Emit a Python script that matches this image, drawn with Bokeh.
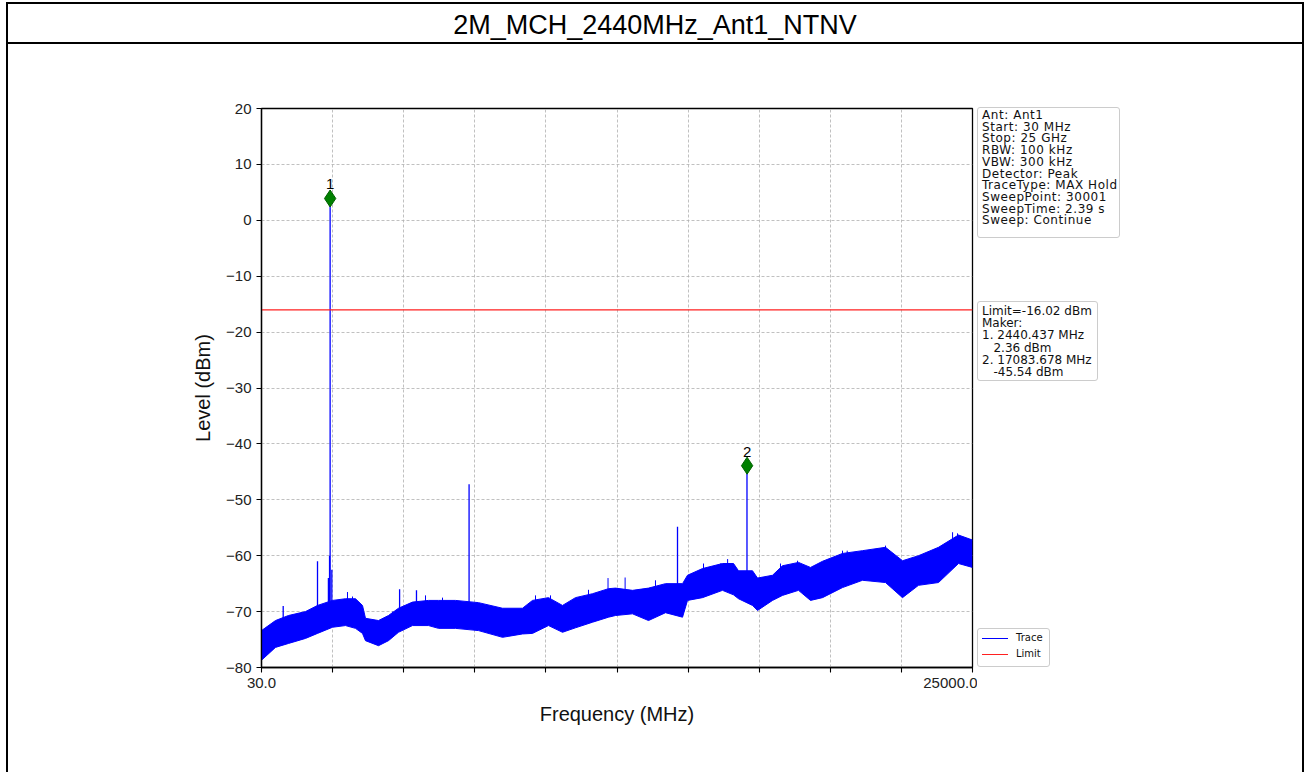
from bokeh.plotting import figure
from bokeh.models import Range1d, FixedTicker, Div, Spacer
from bokeh.layouts import column, row
from bokeh.embed import file_html
from bokeh.resources import INLINE
from bokeh.core.properties import value

# ---------------- data ----------------
title_text = "2M_MCH_2440MHz_Ant1_NTNV"
f_start, f_stop = 30.0, 25000.0
limit_level = -16.02

x_ticks = [30.0, 2527.0, 5024.0, 7521.0, 10018.0, 12515.0, 15012.0, 17509.0, 20006.0, 22503.0, 25000.0]
x_tick_labels = ["30.0", "", "", "", "", "", "", "", "", "", "25000.0"]
y_ticks = [-80, -70, -60, -50, -40, -30, -20, -10, 0, 10, 20]
y_tick_labels = ["\u221280", "\u221270", "\u221260", "\u221250", "\u221240", "\u221230", "\u221220", "\u221210", "0", "10", "20"]

# noise floor envelope of the max-hold trace (MHz, dBm)
noise_freq = [30, 522, 978, 1575, 1997, 2524, 2980, 3331, 3577, 3682,
              4139, 4490, 4841, 5333, 5895, 6246, 6843, 7651, 8494, 9196,
              9547, 10109, 10601, 11057, 11655, 12217, 12463, 13060, 13622, 14219,
              14816, 14991, 15518, 16220, 16607, 16783, 17274, 17450, 17977, 18328,
              18890, 19311, 19733, 20435, 21137, 21945, 22542, 23104, 23806, 24508, 25000]
noise_top = [-73.4, -71.6, -70.7, -70.0, -68.9, -68.0, -67.7, -67.7, -68.9, -71.2,
             -71.6, -70.7, -69.4, -68.3, -68.0, -68.0, -68.0, -68.4, -69.4, -69.4,
             -68.0, -67.5, -68.9, -67.5, -66.8, -65.9, -65.8, -66.2, -65.8, -65.0,
             -65.0, -63.5, -62.3, -61.4, -61.4, -62.7, -62.7, -64.0, -63.5, -61.8,
             -61.2, -62.1, -61.0, -59.6, -59.1, -58.5, -60.9, -60.0, -58.5, -56.3, -57.2]
noise_bottom = [-78.7, -76.4, -75.7, -74.8, -73.9, -72.8, -72.5, -73.0, -73.9, -75.2,
                -76.1, -75.2, -73.7, -72.5, -72.5, -73.0, -73.0, -73.4, -74.6, -74.0,
                -73.9, -72.5, -73.7, -72.9, -71.9, -71.0, -70.7, -70.4, -71.6, -70.2,
                -71.0, -68.0, -67.5, -66.2, -67.0, -67.7, -68.9, -69.8, -68.0, -67.1,
                -66.2, -68.0, -67.5, -65.7, -64.4, -64.8, -67.5, -65.3, -64.8, -61.4, -62.1]

# narrow spurs and the carrier (MHz, base dBm, top dBm)
spur_freq = [792, 1997, 2380, 2420, 2440, 2500, 4880, 5473, 7320, 14640, 17080]
spur_base = [-74.0, -72.0, -72.0, -72.0, -72.0, -72.0, -72.0, -72.0, -72.0, -70.0, -66.0]
spur_top = [-69.0, -61.0, -64.0, -60.0, 3.9, -62.5, -66.0, -66.2, -47.2, -54.8, -43.9]

# tallest noise hairs rising above the floor (MHz, top dBm)
hair_freq = [3050, 3226, 4631, 5790, 6387, 9653, 10180, 11514, 12200, 12800, 13867,
             15553, 16150, 16400, 18257, 18855, 20435, 20600, 21945, 24300, 24474]
hair_top = [-66.5, -67.3, -70.0, -67.1, -67.5, -67.1, -67.1, -66.1, -64.0, -63.9, -64.4,
            -61.4, -61.4, -60.6, -61.4, -60.9, -59.1, -59.1, -58.2, -55.8, -56.0]

# markers
marker_freq = [2440.437, 17083.678]
marker_level = [3.9, -43.9]
marker_names = ["1", "2"]

info_lines = ["Ant: Ant1", "Start: 30 MHz", "Stop: 25 GHz", "RBW: 100 kHz", "VBW: 300 kHz",
              "Detector: Peak", "TraceType: MAX Hold", "SweepPoint: 30001",
              "SweepTime: 2.39 s", "Sweep: Continue"]
result_lines = ["Limit=-16.02 dBm", "Maker:", "1. 2440.437 MHz", "   2.36 dBm",
                "2. 17083.678 MHz", "   -45.54 dBm"]
legend_labels = ["Trace", "Limit"]
legend_colors = ["blue", "#ff2020"]

FONT = "Liberation Sans"
BOX_FONT = "'DejaVu Sans', sans-serif"

# ---------------- layout geometry (page pixels, page origin at 0,0) ----------------
ROOT_X, ROOT_Y, BORDER = 6, 2, 2
CONTENT_X, CONTENT_Y = ROOT_X + BORDER, ROOT_Y + BORDER
CONTENT_W = 1294
TITLE_H, RULE_H = 38, 2
FRAME_L, FRAME_R, FRAME_T, FRAME_B = 261, 972, 108, 667
FIG_Y0 = CONTENT_Y + TITLE_H + RULE_H
FIG_W = 977 - CONTENT_X
FIG_H = 728

p = figure(width=FIG_W, height=FIG_H, output_backend="svg", toolbar_location=None,
           x_range=Range1d(f_start, f_stop), y_range=Range1d(-80, 20),
           min_border_left=FRAME_L - CONTENT_X,
           min_border_right=FIG_W - (FRAME_R - CONTENT_X),
           min_border_top=FRAME_T - FIG_Y0,
           min_border_bottom=FIG_H - (FRAME_B - FIG_Y0),
           background_fill_color="white", border_fill_color="white")
p.outline_line_color = "black"
p.outline_line_width = 1.3

for ax in (p.xaxis[0], p.yaxis[0]):
    ax.axis_line_color = "black"
    ax.axis_line_width = 1.3
    ax.major_tick_line_color = "black"
    ax.major_tick_line_width = 1.1
    ax.major_tick_out = 5
    ax.major_tick_in = 0
    ax.minor_tick_line_color = None
    ax.major_label_text_font = FONT
    ax.major_label_text_font_size = "15px"
    ax.major_label_text_color = "#222222"
    ax.axis_label_text_font = FONT
    ax.axis_label_text_font_size = "20px"
    ax.axis_label_text_font_style = "normal"
    ax.axis_label_text_color = "#111111"

p.xaxis.ticker = FixedTicker(ticks=x_ticks)
p.xaxis.major_label_overrides = {t: l for t, l in zip(x_ticks, x_tick_labels)}
p.yaxis.ticker = FixedTicker(ticks=y_ticks)
p.yaxis.major_label_overrides = {t: l for t, l in zip(y_ticks, y_tick_labels)}
p.xaxis.axis_label = "Frequency (MHz)"
p.yaxis.axis_label = "Level (dBm)"
p.xaxis.major_label_standoff = 5
p.yaxis.major_label_standoff = 5
p.xaxis.axis_label_standoff = 12
p.yaxis.axis_label_standoff = 9

p.grid.grid_line_color = "#b0b0b0"
p.grid.grid_line_dash = "3 2"
p.grid.grid_line_width = 0.8

# trace
p.varea(x=noise_freq, y1=noise_bottom, y2=noise_top, fill_color="blue", fill_alpha=1.0)
p.line(noise_freq, noise_top, line_color="blue", line_width=1.0)
p.line(noise_freq, noise_bottom, line_color="blue", line_width=1.0)
p.segment(x0=spur_freq, y0=spur_base, x1=spur_freq, y1=spur_top,
          line_color="blue", line_width=1.3)
p.segment(x0=hair_freq, y0=[t - 4.0 for t in hair_top], x1=hair_freq, y1=hair_top,
          line_color="blue", line_width=1.0)

# limit
p.line([f_start, f_stop], [limit_level, limit_level], line_color=legend_colors[1], line_width=1.2)

# markers
p.scatter(marker_freq, marker_level, marker="diamond", size=17,
          fill_color="green", line_color="#006000", line_width=1)
p.text(x=marker_freq, y=marker_level, text=marker_names, y_offset=-9,
       text_align="center", text_baseline="bottom", text_font_size="15px",
       text_font=value(FONT), text_color="black")

# ---------------- side boxes (HTML) ----------------
def nb(s):
    stripped = s.lstrip(" ")
    return "&nbsp;" * (len(s) - len(stripped)) + stripped

box_css = {"background-color": "white", "border": "1px solid #cccccc", "border-radius": "3px",
           "box-sizing": "border-box", "font-family": BOX_FONT,
           "font-size": "12px", "color": "#111111", "white-space": "nowrap"}

info_div = Div(text="<br>".join(nb(s) for s in info_lines), width=143, height=131, margin=0,
               styles=dict(box_css, **{"padding": "2px 0 0 4px", "line-height": "11.7px",
                                       "letter-spacing": "0.55px"}))
result_div = Div(text="<br>".join(nb(s) for s in result_lines), width=121, height=80, margin=0,
                 styles=dict(box_css, **{"padding": "3px 0 0 4px", "line-height": "12.2px"}))
legend_html = "".join(
    '<div style="height:16px;display:flex;align-items:center;">'
    f'<span style="display:inline-block;width:26px;height:0;border-top:1.5px solid {c};'
    f'margin-right:8px;"></span>{lab}</div>'
    for lab, c in zip(legend_labels, legend_colors))
legend_div = Div(text=legend_html, width=73, height=39, margin=0,
                 styles=dict(box_css, **{"padding": "1px 0 0 4px", "font-size": "10px",
                                         "line-height": "16px"}))

side = column(Spacer(width=1, height=107 - FIG_Y0, margin=0), info_div,
              Spacer(width=1, height=301 - 238, margin=0), result_div,
              Spacer(width=1, height=628 - 381, margin=0), legend_div, spacing=0, margin=0)

title_div = Div(text=title_text, width=CONTENT_W, height=TITLE_H, margin=0,
                styles={"text-align": "center", "line-height": "42px", "font-size": "27px",
                        "font-family": "'Liberation Sans', Arial, sans-serif", "color": "#000"})
rule_div = Div(text="", width=CONTENT_W, height=RULE_H, margin=0,
               styles={"background-color": "#000"})

layout = column(title_div, rule_div, row(p, side, spacing=0, margin=0), spacing=0,
                styles={"margin-left": f"{ROOT_X}px", "margin-top": f"{ROOT_Y}px",
                        "border-top": f"{BORDER}px solid #000",
                        "border-left": f"{BORDER}px solid #000",
                        "border-right": f"{BORDER}px solid #000"})

open("out.html", "w").write(file_html(layout, INLINE))
